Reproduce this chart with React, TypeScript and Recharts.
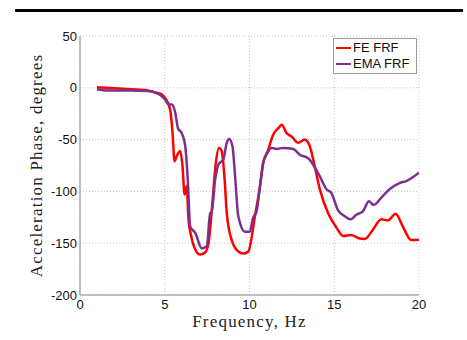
import React from 'react';
import { LineChart, Line, XAxis, YAxis, CartesianGrid, Label } from 'recharts';

const feFreq = [1, 2, 3, 4, 4.44, 4.8, 5.03, 5.32, 5.46, 5.58, 5.7, 5.91, 6.05, 6.17, 6.3, 6.4, 6.56, 6.8, 7.09, 7.38, 7.58, 7.81, 8.01, 8.2, 8.36, 8.52, 8.66, 8.95, 9.34, 9.64, 9.93, 10.32, 10.62, 10.8, 11.1, 11.4, 11.7, 11.9, 12.19, 12.48, 12.87, 13.26, 13.56, 13.85, 14.15, 14.64, 15.13, 15.52, 16.0, 16.4, 16.8, 17.28, 17.78, 18.17, 18.62, 19.05, 19.54, 20];
const fePhase = [0.5, -0.5, -1.5, -2.5, -4.5, -6, -10, -21, -44, -71, -66, -61, -76, -103, -95, -127, -143, -156, -161, -159, -150, -111, -73, -58, -61, -85.5, -121, -147, -158, -160, -158, -124, -95, -73, -60, -45, -39, -35.7, -43.7, -47, -53, -50, -56.6, -76, -98, -121, -135, -143, -142, -145, -146, -137, -127, -128, -121.5, -134, -147, -146.6];

const emaFreq = [1, 1.5, 2, 3, 4, 4.44, 4.74, 5.03, 5.22, 5.42, 5.62, 5.78, 6.01, 6.2, 6.36, 6.5, 6.8, 7.19, 7.48, 7.68, 7.77, 7.97, 8.17, 8.46, 8.66, 8.8, 9.0, 9.15, 9.34, 9.74, 10.02, 10.2, 10.42, 10.62, 10.8, 11.0, 11.3, 11.6, 12.0, 12.58, 12.97, 13.46, 13.75, 14.15, 14.54, 14.83, 15.22, 15.62, 15.95, 16.3, 16.7, 17.05, 17.32, 17.78, 18.26, 18.85, 19.25, 20];
const emaPhase = [-1.5, -2.5, -2.5, -2.5, -3, -4.5, -7, -11.6, -16, -16, -24, -39, -44, -55, -89, -134, -140, -155, -153, -121, -120, -89, -74, -69, -53, -49.5, -57, -85.5, -124, -139, -139, -126, -119, -95, -73, -64.6, -58, -59, -58, -59, -64.6, -68, -74, -85.5, -98, -101.6, -118, -124, -127, -122.5, -119, -109.6, -113, -106, -98, -92, -90, -82];

const xTicks = [0, 5, 10, 15, 20];
const yTicks = [-200, -150, -100, -50, 0, 50];

const seriesNames = ['FE FRF', 'EMA FRF'];
const seriesColors = ['#ff0000', '#7e2f8e'];

const feData = feFreq.map((f, i) => ({ f, p: fePhase[i] }));
const emaData = emaFreq.map((f, i) => ({ f, p: emaPhase[i] }));
const seriesData = [feData, emaData];

const tickFont = { fontFamily: '"Liberation Sans", Arial, sans-serif', fontSize: 13, fill: '#111' };
const labelFont = { fontFamily: '"Liberation Serif", serif', fontSize: 17, fill: '#222', letterSpacing: 1.2 };

const YLabel = (props: any) => {
  const vb = props.viewBox || { x: 20, y: 36, width: 60, height: 259 };
  const cx = vb.x + 16;
  const cy = vb.y + vb.height / 2;
  return (
    <text x={cx} y={cy} transform={`rotate(-90 ${cx} ${cy})`} textAnchor="middle" dominantBaseline="central" style={labelFont as any}>
      Acceleration Phase, degrees
    </text>
  );
};

export default function App() {
  return (
    <div style={{ position: 'absolute', left: 0, top: 0, width: 467, height: 340, background: '#fff' }}>
      <div style={{ position: 'absolute', left: 15, top: 9, width: 448, height: 3, background: '#000' }} />
      <LineChart width={467} height={340} margin={{ top: 36, right: 48, left: 20, bottom: 11 }}>
        <CartesianGrid stroke="#c8c8c8" strokeDasharray="1 2" />
        <XAxis
          type="number"
          dataKey="f"
          domain={[0, 20]}
          ticks={xTicks}
          interval={0}
          tickLine={false}
          tickSize={0}
          tickMargin={5}
          height={34}
          axisLine={{ stroke: '#888' }}
          tick={tickFont}
          allowDataOverflow
        >
          <Label value="Frequency, Hz" position="insideBottom" offset={2} style={labelFont as any} />
        </XAxis>
        <YAxis
          type="number"
          domain={[-200, 50]}
          ticks={yTicks}
          interval={0}
          tickLine={false}
          tickSize={0}
          tickMargin={3}
          width={60}
          axisLine={{ stroke: '#888' }}
          tick={tickFont}
          allowDataOverflow
        >
          <Label content={<YLabel />} />
        </YAxis>
        {seriesData.map((d, i) => (
          <Line key={seriesNames[i]} data={d} dataKey="p" name={seriesNames[i]} type="monotone" stroke={seriesColors[i]} strokeWidth={2.5} dot={false} isAnimationActive={false} />
        ))}
      </LineChart>
      <div style={{ position: 'absolute', left: 333, top: 38, width: 84, height: 36, boxSizing: 'border-box', background: '#fff', border: '1px solid #999', padding: '1px 0 0 2px' }}>
        {seriesNames.map((n, i) => (
          <div key={n} style={{ display: 'flex', alignItems: 'center', height: 16 }}>
            <div style={{ width: 15, height: 2, background: seriesColors[i], marginRight: 2 }} />
            <span style={{ fontFamily: '"Liberation Sans", Arial, sans-serif', fontSize: 13, color: '#111', lineHeight: '16px' }}>{n}</span>
          </div>
        ))}
      </div>
    </div>
  );
}
